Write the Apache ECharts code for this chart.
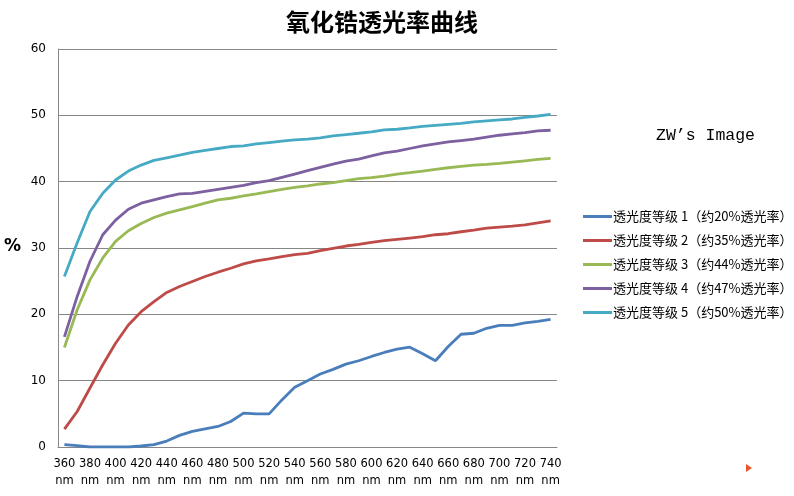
<!DOCTYPE html>
<html>
<head>
<meta charset="utf-8">
<script src="https://cdn.jsdelivr.net/npm/echarts@6/dist/echarts.min.js"></script>
<style>html,body{margin:0;padding:0;background:#fff}#c{width:794px;height:496px}</style>
</head>
<body>
<div id="c"></div>
<script>
var wavelengths = [360,370,380,390,400,410,420,430,440,450,460,470,480,490,500,510,520,530,540,550,560,570,580,590,600,610,620,630,640,650,660,670,680,690,700,710,720,730,740];
var seriesNames = ['透光度等级 1（约20%透光率）','透光度等级 2（约35%透光率）','透光度等级 3（约44%透光率）','透光度等级 4（约47%透光率）','透光度等级 5（约50%透光率）'];
var level1 = [0.35,0.2,0.0,0.0,0.0,0.0,0.15,0.35,0.9,1.75,2.35,2.75,3.1,3.85,5.1,5.0,5.0,7.1,9.0,10.0,11.0,11.7,12.5,13.0,13.65,14.25,14.75,15.05,14.05,13.0,15.15,17.0,17.15,17.9,18.35,18.35,18.7,18.95,19.25];
var level2 = [2.7,5.35,8.9,12.4,15.65,18.4,20.4,21.9,23.3,24.2,24.95,25.7,26.35,26.95,27.6,28.05,28.35,28.7,29.0,29.2,29.6,29.95,30.3,30.55,30.85,31.1,31.3,31.5,31.7,32.0,32.15,32.45,32.7,33.0,33.15,33.3,33.5,33.8,34.1];
var level3 = [15.0,20.7,25.2,28.5,31.0,32.6,33.7,34.6,35.25,35.75,36.25,36.75,37.25,37.5,37.85,38.15,38.5,38.85,39.15,39.35,39.65,39.85,40.15,40.45,40.6,40.85,41.15,41.35,41.6,41.85,42.1,42.3,42.5,42.6,42.75,42.95,43.15,43.35,43.5];
var level4 = [16.6,22.7,28.0,32.0,34.2,35.85,36.75,37.25,37.75,38.15,38.25,38.55,38.85,39.15,39.45,39.85,40.15,40.65,41.15,41.65,42.15,42.65,43.1,43.4,43.9,44.35,44.6,45.0,45.4,45.7,46.0,46.2,46.4,46.7,47.0,47.2,47.4,47.65,47.75];
var level5 = [25.7,30.8,35.5,38.25,40.25,41.6,42.5,43.2,43.6,44.0,44.4,44.7,45.0,45.3,45.4,45.7,45.9,46.1,46.3,46.4,46.6,46.9,47.1,47.3,47.5,47.8,47.9,48.1,48.35,48.5,48.65,48.8,49.0,49.15,49.3,49.45,49.7,49.9,50.15];
var yTicks = [0,10,20,30,40,50,60];
var colors = ['#4A7EBB','#BE4B48','#98B954','#7D60A0','#46AAC5'];
var allData = [level1,level2,level3,level4,level5];

var chart = echarts.init(document.getElementById('c'), null, {renderer:'canvas'});
var series = allData.map(function(d,i){
  return {
    name: seriesNames[i], type:'line', data:d, symbol:'none', smooth:false,
    lineStyle:{color:colors[i], width:2.8}, itemStyle:{color:colors[i]}, z: 5-i
  };
});
chart.setOption({
  animation:false,
  backgroundColor:'#fff',
  title:{text:'氧化锆透光率曲线', left:377, textAlign:'center', top:5,
    textStyle:{fontFamily:'Noto Sans CJK SC', fontSize:24, fontWeight:'bold', color:'#000'}},
  grid:{left:58, right:237, top:49, bottom:49, containLabel:false},
  legend:{orient:'vertical', left:578, top:205, itemGap:11, icon:'rect', itemWidth:29, itemHeight:3,
    textStyle:{fontFamily:'Noto Sans CJK SC', fontSize:13, color:'#000', padding:[0,0,0,-4]}, data:seriesNames},
  xAxis:{type:'category', data:wavelengths, boundaryGap:true,
    axisLine:{lineStyle:{color:'#868686', width:1}}, axisTick:{show:false},
    axisLabel:{interval:1, formatter:function(v){return v+'\nnm';}, color:'#000', fontFamily:'DejaVu Sans', fontSize:11.5, lineHeight:17, margin:9}},
  yAxis:{type:'value', min:yTicks[0], max:yTicks[yTicks.length-1], interval:10,
    axisLine:{show:true, lineStyle:{color:'#868686', width:1}}, axisTick:{show:false},
    splitLine:{lineStyle:{color:'#868686', width:1}},
    axisLabel:{color:'#000', fontFamily:'DejaVu Sans', fontSize:12, margin:12}},
  graphic:[
    {type:'text', left:4, top:238, style:{text:'%', font:'bold 17px "DejaVu Sans"', fill:'#000'}},
    {type:'text', left:656, top:127, style:{text:'ZW’s Image', font:'16.5px "Liberation Mono"', fill:'#000'}},
    {type:'polygon', shape:{points:[[746,464],[746,472],[752,468]]}, style:{fill:'#E8572A'}}
  ],
  series:series
});
</script>
</body>
</html>
